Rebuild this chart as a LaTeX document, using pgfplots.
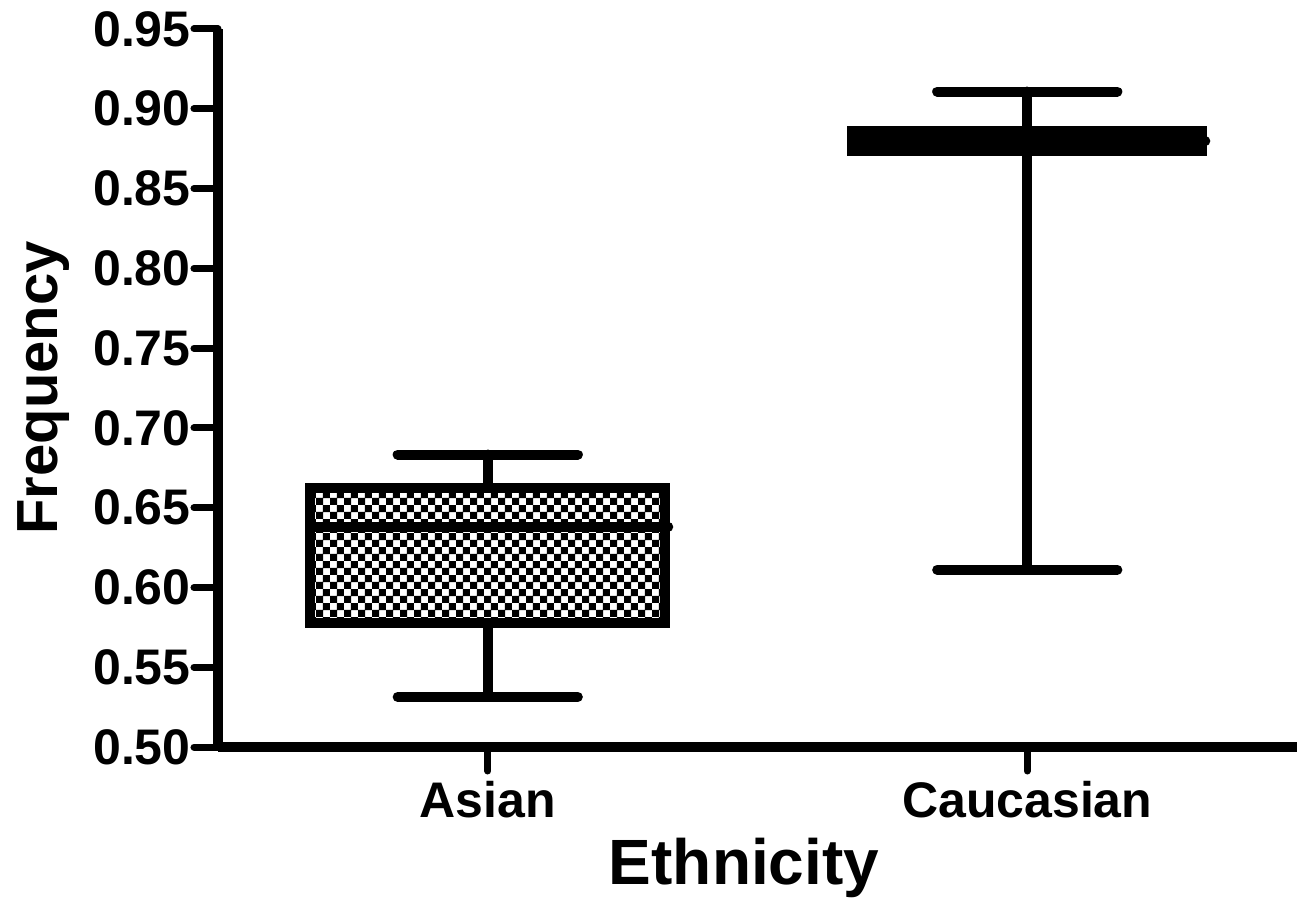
\documentclass[border=0pt]{standalone}
\usepackage{fontspec}
\setmainfont{Liberation Sans}
\usepackage{pgfplots}
\pgfplotsset{compat=1.18}
\usepgfplotslibrary{statistics}
\usetikzlibrary{patterns}
\pgfdeclarepatternformonly{mychecker}{\pgfqpoint{0pt}{0pt}}{\pgfqpoint{7.2pt}{7.2pt}}{\pgfqpoint{7.2pt}{7.2pt}}{%
  \pgfpathrectangle{\pgfqpoint{0pt}{0pt}}{\pgfqpoint{3.7pt}{3.7pt}}%
  \pgfpathrectangle{\pgfqpoint{3.6pt}{3.6pt}}{\pgfqpoint{3.6pt}{3.6pt}}%
  \pgfusepath{fill}}
\begin{document}
\begin{tikzpicture}
\begin{axis}[
  scale only axis, width=539.5pt, height=359pt,
  xmin=0.5, xmax=2.5, ymin=0.5, ymax=0.95,
  axis x line=bottom, axis y line=left,
  axis line style={-, line width=5pt, black},
  xtick={1,2}, xticklabels={Asian,Caucasian},
  ytick={0.50,0.55,0.60,0.65,0.70,0.75,0.80,0.85,0.90,0.95},
  /pgf/number format/assume math mode=true,
  tick align=outside, major tick length=12pt,
  every tick/.style={black, line width=3.5pt, line cap=round},
  tick label style={font=\fontsize{25}{30}\selectfont\bfseries},
  yticklabel style={/pgf/number format/fixed, /pgf/number format/fixed zerofill, /pgf/number format/precision=2, inner sep=1.5pt},
  xticklabel style={inner sep=5pt},
  every axis y label/.style={at={(axis description cs:-0.149,0.5)}, rotate=90, anchor=base, font=\fontsize{29}{34}\selectfont\bfseries},
  every axis x label/.style={at={(axis description cs:0.4875,-0.192)}, anchor=base, font=\fontsize{32}{38}\selectfont\bfseries},
  ylabel={Frequency}, xlabel={Ethnicity},
  clip=false,
  boxplot/draw direction=y,
]
\addplot[black, line width=5pt,
  boxplot prepared={draw position=1, lower whisker=0.5314, lower quartile=0.5778, median=0.6381, upper quartile=0.6625, upper whisker=0.6833, box extend=0.658, whisker extend=0.334},
  boxplot/every box/.style={pattern=mychecker, line join=miter},
  boxplot/every whisker/.style={line cap=round},
  boxplot/every median/.style={line cap=round, shorten >=-1.5pt}] coordinates {};
\addplot[black, line width=5pt,
  boxplot prepared={draw position=2, lower whisker=0.6111, lower quartile=0.8734, median=0.8797, upper quartile=0.8860, upper whisker=0.9108, box extend=0.649, whisker extend=0.334},
  boxplot/every box/.style={pattern=mychecker, line join=miter},
  boxplot/every whisker/.style={line cap=round},
  boxplot/every median/.style={line cap=round, shorten >=-1.5pt}] coordinates {};
\end{axis}
\pgfresetboundingbox
\path[use as bounding box] (-109pt,-86pt) rectangle (540.5pt,373.5pt);
\end{tikzpicture}
\end{document}
